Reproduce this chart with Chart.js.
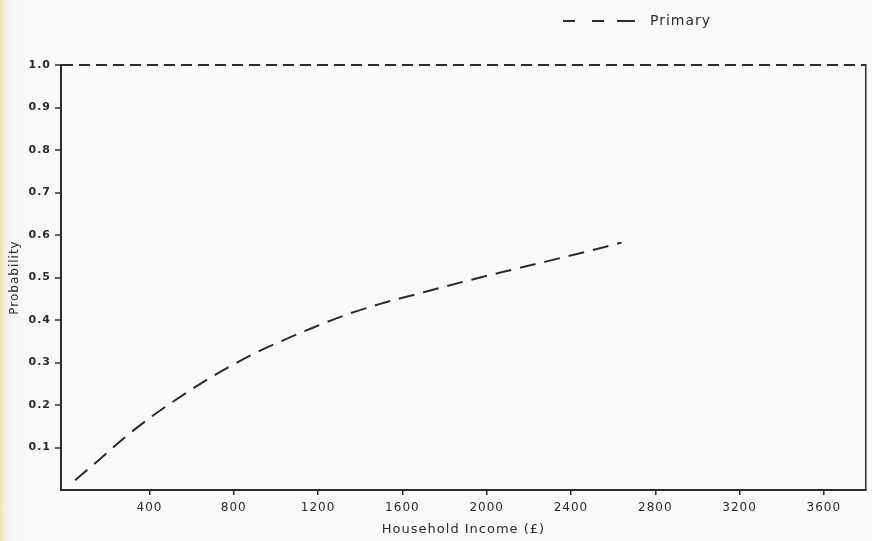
<!DOCTYPE html>
<html><head><meta charset="utf-8">
<script src="https://cdn.jsdelivr.net/npm/chart.js@4.4.0/dist/chart.umd.min.js"></script>
<style>
html,body{margin:0;padding:0;}
body{width:872px;height:541px;background:linear-gradient(to right,#efe2b6 0px,#f5f0dc 5px,#f7f8f6 12px,#f8f9f9 40px);}
canvas{display:block;}
</style>
</head><body>
<canvas id="c" width="872" height="541"></canvas>
<script>
const seriesName = 'Primary';
const incomes = [47, 163, 281, 400, 518, 645, 771, 897, 1024, 1181, 1337, 1495, 1653, 1811, 1969, 2127, 2285, 2443, 2640];
const probabilities = [0.023, 0.072, 0.123, 0.169, 0.210, 0.251, 0.288, 0.321, 0.350, 0.383, 0.413, 0.438, 0.459, 0.480, 0.500, 0.519, 0.538, 0.557, 0.582];
const xTickValues = [400, 800, 1200, 1600, 2000, 2400, 2800, 3200, 3600];
const yTickValues = [0.1, 0.2, 0.3, 0.4, 0.5, 0.6, 0.7, 0.8, 0.9, 1.0];
const ceilingValue = 1.0;
const xTitle = 'Household Income (£)';
const yTitle = 'Probability';

const ink = '#2b2b2b';
const fontFamily = '"DejaVu Sans", "Liberation Sans", sans-serif';

const spacing = {
  id: 'spacing',
  beforeUpdate(chart) { chart.ctx.letterSpacing = '1px'; },
  beforeDraw(chart) {
    chart.ctx.letterSpacing = '1px';
    if (chart.legend) {
      chart.legend.left = 549;
      chart.legend.right = 872;
    }
  }
};

new Chart(document.getElementById('c'), {
  type: 'line',
  data: {
    datasets: [{
      label: seriesName,
      data: incomes.map((x, i) => ({ x: x, y: probabilities[i] })),
      borderColor: ink,
      backgroundColor: 'transparent',
      borderWidth: 2,
      borderDash: [16, 9],
      pointRadius: 0,
      cubicInterpolationMode: 'monotone',
      fill: false
    }]
  },
  options: {
    responsive: false,
    animation: false,
    layout: { padding: { left: 8, right: 6, top: 0, bottom: 4 } },
    plugins: {
      legend: {
        position: 'top',
        align: 'start',
        labels: {
          usePointStyle: true,
          pointStyle: 'line',
          pointStyleWidth: 80,
          boxWidth: 80,
          color: ink,
          font: { family: fontFamily, size: 14 },
          padding: 14,
          generateLabels(chart) {
            const items = Chart.defaults.plugins.legend.labels.generateLabels(chart);
            items.forEach(it => { it.lineDash = [12, 17, 12, 13, 18, 100]; it.lineWidth = 2; it.strokeStyle = ink; });
            return items;
          }
        }
      },
      tooltip: { enabled: false }
    },
    scales: {
      x: {
        type: 'linear',
        position: 'bottom',
        min: -20,
        max: 3800,
        afterBuildTicks(s) { s.ticks = xTickValues.map(v => ({ value: v })); },
        grid: { drawOnChartArea: false, tickLength: 5, color: ink, lineWidth: 1.5 },
        border: { color: ink, width: 2 },
        ticks: { color: ink, font: { family: fontFamily, size: 12 }, padding: 6, maxRotation: 0, callback: v => String(v) },
        title: { display: true, text: xTitle, color: ink, font: { family: fontFamily, size: 13 }, padding: { top: 0, bottom: 0 } }
      },
      xTop: {
        type: 'linear',
        position: 'top',
        min: -20,
        max: 3800,
        ticks: { display: false },
        grid: { display: false, drawTicks: false },
        border: { display: false },
        afterFit(s) { s.height = 27; }
      },
      y: {
        type: 'linear',
        position: 'left',
        min: 0,
        max: 1.0,
        afterBuildTicks(s) { s.ticks = yTickValues.map(v => ({ value: v })); },
        grid: {
          drawOnChartArea: true,
          tickLength: 6,
          tickColor: ink,
          tickWidth: 1.5,
          color: c => (c.tick && Math.abs(c.tick.value - ceilingValue) < 1e-9) ? ink : 'rgba(0,0,0,0)',
          lineWidth: c => (c.tick && Math.abs(c.tick.value - ceilingValue) < 1e-9) ? 2 : 0
        },
        border: { color: ink, width: 2, dash: [11, 6] },
        ticks: { color: ink, font: { family: fontFamily, size: 11, weight: 'bold' }, padding: 4, callback: v => Number(v).toFixed(1) },
        title: { display: true, text: yTitle, color: ink, font: { family: fontFamily, size: 12 }, padding: { top: 0, bottom: 2 } },
        afterFit(s) { s.width = 53; }
      },
      yRight: {
        type: 'linear',
        position: 'right',
        min: 0,
        max: 1.0,
        ticks: { display: false },
        grid: { display: false, drawTicks: false },
        border: { display: true, color: ink, width: 1.5 },
        afterFit(s) { s.width = 0; }
      }
    }
  },
  plugins: [spacing]
});
</script>
</body></html>
